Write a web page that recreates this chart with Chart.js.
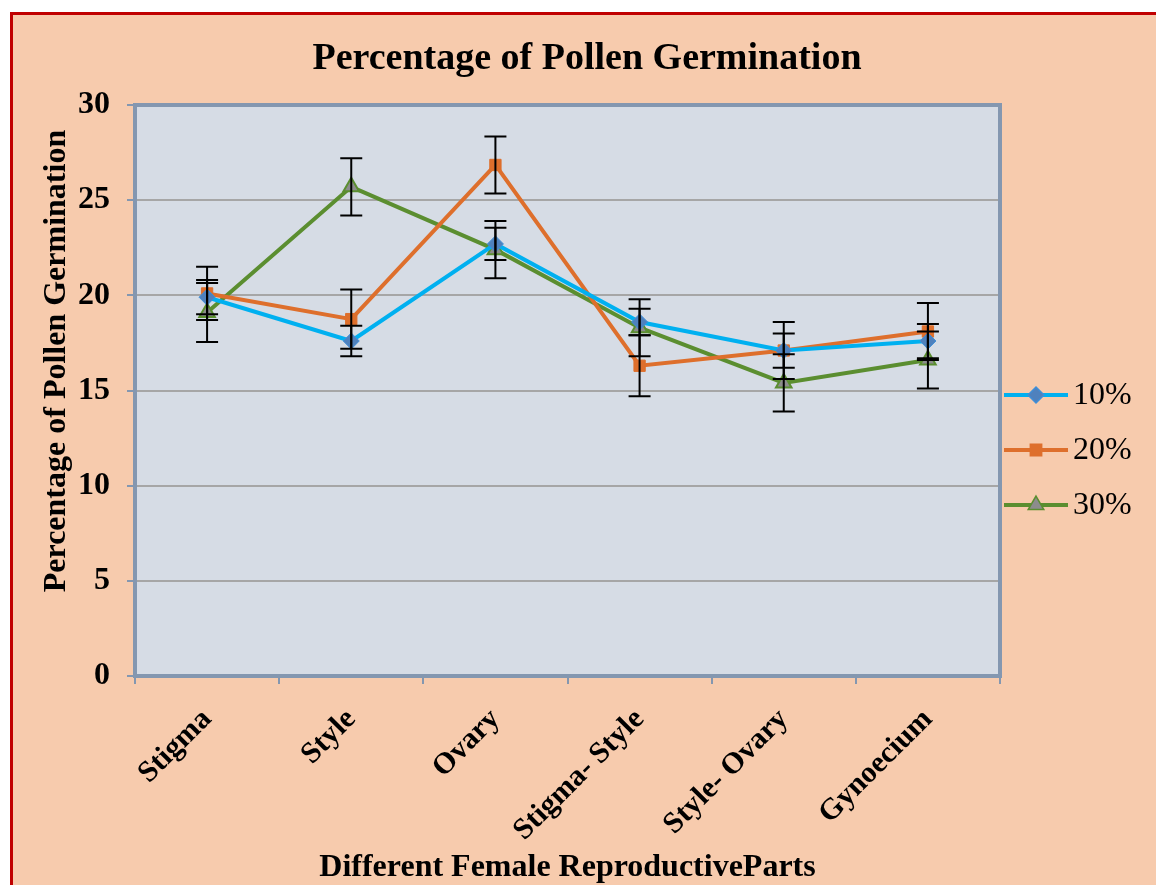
<!DOCTYPE html>
<html>
<head>
<meta charset="utf-8">
<script src="https://cdn.jsdelivr.net/npm/chart.js@4/dist/chart.umd.min.js"></script>
<style>
  html, body { margin: 0; padding: 0; background: #fff; }
  #frame {
    position: absolute; left: 10px; top: 12px; width: 1160px; height: 890px;
    background: #F7CBAD; border-left: 3px solid #C00000; border-top: 3px solid #C00000;
  }
  #wrap { position: absolute; left: 0; top: 0; width: 1156px; height: 885px; }
</style>
</head>
<body>
<div id="frame"></div>
<div id="wrap"><canvas id="myChart" width="1156" height="885"></canvas></div>
<script>
const categories = ['Stigma', 'Style', 'Ovary', 'Stigma- Style', 'Style- Ovary', 'Gynoecium'];
const series10 = [19.9, 17.6, 22.7, 18.6, 17.1, 17.6];
const series20 = [20.1, 18.75, 26.85, 16.3, 17.1, 18.1];
const series30 = [19.1, 25.7, 22.4, 18.3, 15.4, 16.6];
const err10 = [0.9, 0.8, 0.85, 0.7, 0.9, 0.9];
const err20 = [1.4, 1.55, 1.5, 1.6, 1.5, 1.5];
const err30 = [1.55, 1.5, 1.5, 1.5, 1.5, 1.5];

const chartTitle = 'Percentage of Pollen Germination';
const yTitle = 'Percentage of Pollen Germination';
const xTitle = 'Different Female ReproductiveParts';

const SERIF = "'Liberation Serif', 'Times New Roman', serif";

// plot background + frame
const plotArea = {
  id: 'plotArea',
  beforeDraw(chart) {
    const {ctx, chartArea: a} = chart;
    ctx.save();
    ctx.fillStyle = '#D6DCE5';
    ctx.fillRect(a.left, a.top, a.right - a.left, a.bottom - a.top);
    ctx.restore();
  },
  afterDatasetsDraw(chart) {
    const {ctx, chartArea: a} = chart;
    ctx.save();
    ctx.strokeStyle = '#8497B0';
    ctx.lineWidth = 4;
    ctx.strokeRect(a.left, a.top, a.right - a.left, a.bottom - a.top);
    ctx.restore();
  }
};

// error bars
const errorBars = {
  id: 'errorBars',
  afterDatasetsDraw(chart) {
    const {ctx} = chart;
    const y = chart.scales.y;
    ctx.save();
    ctx.strokeStyle = '#000';
    ctx.lineWidth = 2;
    chart.data.datasets.forEach((ds, i) => {
      const meta = chart.getDatasetMeta(i);
      meta.data.forEach((pt, j) => {
        const v = ds.data[j], e = ds.errors[j];
        const top = y.getPixelForValue(v + e);
        const bot = y.getPixelForValue(v - e);
        ctx.beginPath();
        ctx.moveTo(pt.x, top); ctx.lineTo(pt.x, bot);
        ctx.moveTo(pt.x - 11, top); ctx.lineTo(pt.x + 11, top);
        ctx.moveTo(pt.x - 11, bot); ctx.lineTo(pt.x + 11, bot);
        ctx.stroke();
      });
    });
    ctx.restore();
  }
};

// titles (the chart one is centred on the page, the y one sits a bit high, as in the original)
const titles = {
  id: 'titles',
  afterDraw(chart) {
    const {ctx, chartArea: a} = chart;
    ctx.save();
    ctx.fillStyle = '#000';
    ctx.textAlign = 'center';
    ctx.textBaseline = 'middle';
    ctx.font = 'bold 38px ' + SERIF;
    ctx.fillText(chartTitle, 587, 59);
    ctx.translate(57, a.top + 256);
    ctx.rotate(-Math.PI / 2);
    ctx.font = 'bold 32px ' + SERIF;
    ctx.fillText(yTitle, 0, 0);
    ctx.restore();
  }
};

// legend: line with marker, like the spreadsheet one
const lineLegend = {
  id: 'lineLegend',
  afterDraw(chart) {
    const {ctx, chartArea: a} = chart;
    ctx.save();
    chart.data.datasets.forEach((ds, i) => {
      const yy = a.top + 290 + i * 55;
      const x0 = a.right + 4, x1 = a.right + 68;
      ctx.strokeStyle = ds.borderColor;
      ctx.lineWidth = 4;
      ctx.beginPath(); ctx.moveTo(x0, yy); ctx.lineTo(x1, yy); ctx.stroke();
      ctx.fillStyle = ds.pointBackgroundColor;
      ctx.strokeStyle = ds.pointBorderColor;
      ctx.lineWidth = 1.5;
      Chart.helpers.drawPoint(ctx, {pointStyle: ds.pointStyle, radius: ds.pointRadius, rotation: 0, borderWidth: 1.5}, (x0 + x1) / 2, yy);
      ctx.fillStyle = '#000';
      ctx.font = '32px ' + SERIF;
      ctx.textBaseline = 'middle';
      ctx.fillText(ds.label, x1 + 5, yy + 1);
    });
    ctx.restore();
  }
};

const ctx = document.getElementById('myChart');
const chart = new Chart(ctx, {
  type: 'line',
  data: {
    labels: categories,
    datasets: [
      {
        label: '10%', data: series10, errors: err10,
        borderColor: '#00B0F0', borderWidth: 4,
        pointStyle: 'rectRot', pointRadius: 8,
        pointBackgroundColor: '#4F81BD', pointBorderColor: '#3F8FD8', pointBorderWidth: 1
      },
      {
        label: '20%', data: series20, errors: err20,
        borderColor: '#DE6F2C', borderWidth: 4,
        pointStyle: 'rect', pointRadius: 8,
        pointBackgroundColor: '#DE6F2C', pointBorderColor: '#DE6F2C', pointBorderWidth: 1
      },
      {
        label: '30%', data: series30, errors: err30,
        borderColor: '#5B8E30', borderWidth: 4,
        pointStyle: 'triangle', pointRadius: 9,
        pointBackgroundColor: '#8C8C8C', pointBorderColor: '#5B8E30', pointBorderWidth: 2
      }
    ]
  },
  options: {
    responsive: false,
    animation: false,
    layout: { padding: { left: 41, right: 156, top: 105, bottom: 0 } },
    scales: {
      x: {
        offset: true,
        afterFit: (scale) => { scale.height = 209; },
        grid: { drawOnChartArea: false, drawTicks: true, tickLength: 8, color: '#8497B0', lineWidth: 2, offset: true },
        border: { display: false },
        ticks: {
          minRotation: 45, maxRotation: 45, color: '#000', padding: 18,
          font: { family: SERIF, size: 30, weight: 'bold' }
        },
        title: {
          display: true, text: xTitle, color: '#000',
          font: { family: SERIF, size: 32, weight: 'bold', lineHeight: 1.0 }, padding: { top: 1, bottom: 1 }
        }
      },
      y: {
        min: 0, max: 30,
        afterFit: (scale) => { scale.width = 94; },
        grid: { color: '#A6A6A6', lineWidth: 2, tickLength: 8, tickColor: '#8497B0' },
        border: { display: false },
        ticks: {
          stepSize: 5, color: '#000', padding: 17,
          font: { family: SERIF, size: 32, weight: 'bold' }
        }
      }
    },
    plugins: {
      legend: { display: false },
      tooltip: { enabled: false },
      title: { display: false }
    }
  },
  plugins: [plotArea, errorBars, titles, lineLegend]
});
</script>
</body>
</html>
